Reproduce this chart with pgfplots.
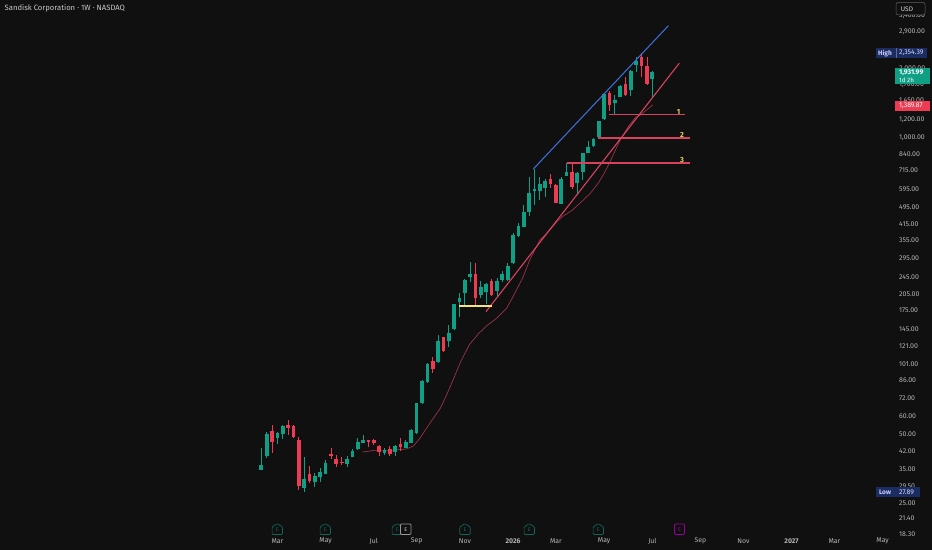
\documentclass[border=0pt]{standalone}
\usepackage{pgfplots}
\pgfplotsset{compat=1.18}
\usepackage{pgfplotstable}
\usepackage{fontspec}
\setmainfont{Fira Sans}
\definecolor{bg}{HTML}{101010}
\definecolor{up}{HTML}{0E9F85}
\definecolor{down}{HTML}{EE3A52}
\definecolor{trendred}{HTML}{D8425E}
\definecolor{maline}{HTML}{9A3346}
\definecolor{tblue}{HTML}{3E6FDB}
\definecolor{ylw}{HTML}{F6E27E}
\definecolor{numy}{HTML}{E8D060}
\definecolor{axtxt}{HTML}{B4B4B4}
\definecolor{earn}{HTML}{106558}
\definecolor{hightag}{HTML}{1B2C60}
\pgfplotstableread{
i o h l c
0 34.9 43.6 34.7 36.7
1 40.2 51.3 39.4 50.2
3 48.2 51.3 45.3 50.7
4 50.2 55.0 47.7 54.4
8 29.2 39.8 27.89 31.9
10 31.0 33.9 29.5 32.9
11 32.5 35.6 31.0 34.2
12 33.5 38.6 33.4 37.5
16 37.1 40.2 36.0 39.0
17 39.8 43.1 39.7 42.3
18 43.1 48.2 42.7 46.3
19 45.8 49.7 45.7 47.2
23 41.4 43.6 40.6 42.7
25 41.8 44.9 40.2 44.4
27 43.6 47.2 43.5 46.3
28 45.8 52.8 45.7 52.3
29 50.7 68.7 50.2 68.6
30 68.6 86.5 67.9 85.6
31 84.8 102.8 84.0 101.7
33 103.8 136.3 102.8 128.2
35 128.2 150.7 120.7 139.0
36 144.8 186.5 143.3 186.2
37 190 208.1 163.4 197.9
38 208.1 239.7 184.4 237.3
39 244.6 284.2 232.6 252.1
41 204 234.9 197.9 221.2
42 210.2 230.2 186.2 227.9
44 212.4 242.2 201.9 234.9
45 237.3 259.9 232.6 252.1
46 237.3 281.4 234.9 273
47 281.4 381.3 278.6 373.7
48 370 422 366.3 409.5
49 405.4 505.9 405 471.4
50 471.4 671 452.8 571
51 582 727 505.9 594
52 582 671 532 625
53 601 658 548 645
56 511 671 510 658
57 678 772 677 706
59 632 706 559 699
60 706 856 651 855
61 855 964 854 908
62 917 995 908 985
63 1005 1181 995 1180
64 1205 1565 1192 1550
66 1416 1534 1267 1459
67 1504 1698 1503 1681
69 1613 1974 1519 1954
70 2077 2251 1935 2162
73 1804 1954 1504 1932
}\greencandles
\pgfplotstableread{
i o h l c
2 51.8 55.0 41.4 46.3
5 55.0 57.8 49.7 53.3
6 54.4 55.0 48.2 48.7
7 47.2 48.7 28.6 29.8
9 33.5 36.3 30.7 31.3
13 41.0 43.6 39.0 40.2
14 39.0 40.6 36.0 37.1
15 37.8 39.8 36.7 37.5
20 47.2 47.3 44.0 46.3
21 47.2 47.7 44.9 45.8
22 44.4 44.9 40.2 41.8
24 43.1 44.4 40.2 41.0
26 45.3 48.2 42.3 44.0
32 104.8 109.1 92.9 96.7
34 133.6 134 114.8 115.9
40 252.1 281.4 184.4 197.9
43 234.9 239.7 201.9 204
54 658 692 601 625
55 619 625 515 516.2
58 706 772 594 607
65 1565 1597 1306 1388
68 1715 1841 1519 1534
71 2251 2354 1841 2056
72 2056 2251 1698 1715
}\redcandles
\pgfplotstableread{
x y
18.9 41.8
20.9 42.4
23.4 42.3
25.3 42.7
27.1 43.1
28.4 44.4
29.6 48
31.5 56
33.4 64.9
34.6 74.4
35.8 86.5
37.1 102.5
38.8 123.1
40.5 137.6
42.1 149.6
43.95 161.2
45.8 178.3
47 200.5
48.9 245
50.1 290
52 355
53.9 393
55.2 428
56.4 452.8
58 478
59.5 515
61.4 568
62.9 630
64.2 708
65.4 810
67 974
68.6 1123
69.8 1218
70.8 1255
73.1 1388
}\madata
\begin{document}
\begin{tikzpicture}
\begin{axis}[
  scale only axis, width=932bp, height=550bp,
  ymode=log, xmin=-48.79, xmax=125.22, ymin=15.55, ymax=4000,
  axis background/.style={fill=bg},
  axis line style={draw=none},
  major tick length=0pt, minor tick length=0pt,
  yminorticks=false, xminorticks=false, tick style={draw=none},
  yticklabel pos=right,
  ytick={3400,2900,2000,1700,1450,1200,1000,840,715,595,495,415,355,295,245,205,175,145,121,101,86,72,60,50,42,35,29.5,25,21.4,18.3},
  yticklabels={{3,400.00},{2,900.00},{2,000.00},{1,700.00},{1,450.00},{1,200.00},{1,000.00},840.00,715.00,595.00,495.00,415.00,355.00,295.00,245.00,205.00,175.00,145.00,121.00,101.00,86.00,72.00,60.00,50.00,42.00,35.00,29.50,25.00,21.40,18.30},
  yticklabel style={font=\fontsize{7}{8}\selectfont, text=axtxt, anchor=west, inner sep=0pt, xshift=-33bp},
  xtick={3,12,21,29,38,47,55,64,73,82,90,99,107,116},
  xticklabels={Mar,May,Jul,Sep,Nov,\textbf{2026},Mar,May,Jul,Sep,Nov,\textbf{2027},Mar,May},
  xticklabel style={font=\fontsize{6.9}{8}\selectfont, text=axtxt, anchor=center, inner sep=0pt, yshift=9bp},
  candle/.style n args={2}{draw=none, no marks, forget plot, error bars/.cd, y dir=plus, y explicit, error mark=none, error bar style={draw=#1, line width=#2, line cap=butt}},
]
% moving average
\addplot[maline, line width=0.7bp, forget plot] table[x=x,y=y] {\madata};
% candles
\addplot[candle={up}{0.9bp}] table[x=i, y=l, y error plus expr=\thisrow{h}-\thisrow{l}] {\greencandles};
\addplot[candle={up}{3.7bp}] table[x=i, y=o, y error plus expr=\thisrow{c}-\thisrow{o}] {\greencandles};
\addplot[candle={down}{0.9bp}] table[x=i, y=l, y error plus expr=\thisrow{h}-\thisrow{l}] {\redcandles};
\addplot[candle={down}{3.7bp}] table[x=i, y=c, y error plus expr=\thisrow{o}-\thisrow{c}] {\redcandles};
% drawings
\addplot[tblue, line width=1.05bp, forget plot] coordinates {(50.78,727) (76.0,3087)};
\addplot[trendred, line width=1.1bp, forget plot] coordinates {(41.95,172.3) (78.04,2115)};
\addplot[ylw, line width=1.1bp, forget plot] coordinates {(36.9,182.5) (43.0,182.5)};
\addplot[trendred, line width=1.1bp, forget plot] coordinates {(64.9,1263) (79.1,1263)};
\addplot[trendred, line width=1.3bp, forget plot] coordinates {(62.9,995) (80.04,995)};
\addplot[trendred, line width=1.16bp, forget plot] coordinates {(57.0,772) (80.04,772)};
\end{axis}
\begin{scope}[x=1bp,y=-1bp,yshift=550bp]
\node[anchor=west,inner sep=0pt,text=white!78!black,font=\fontsize{7.7}{9}\selectfont] at (4.5,8.3) {Sandisk Corporation · 1W · NASDAQ};
% price tags
\fill[hightag] (876,48.5) rectangle (927,58);
\fill[hightag!70!white] (896.4,48.5) rectangle (896.8,58);
\node[inner sep=0pt,text=white!80!blue,font=\fontsize{6.6}{8}\selectfont\bfseries] at (885,53.2) {High};
\node[anchor=west,inner sep=0pt,text=white!85!blue,font=\fontsize{6.9}{8}\selectfont] at (899,53.2) {2,354.39};
\fill[up] (894.5,68.5) rectangle (929.5,84);
\node[anchor=west,inner sep=0pt,text=white,font=\fontsize{6.9}{8}\selectfont\bfseries] at (899,73) {1,931.99};
\node[anchor=west,inner sep=0pt,text=white,font=\fontsize{6.2}{8}\selectfont] at (899,80) {1d 2h};
\fill[down] (894.5,101.5) rectangle (929.5,110.8);
\node[anchor=west,inner sep=0pt,text=white,font=\fontsize{6.9}{8}\selectfont] at (899,106) {1,389.87};
\fill[hightag] (876,487.5) rectangle (919.5,497);
\node[inner sep=0pt,text=white!80!blue,font=\fontsize{6.6}{8}\selectfont\bfseries] at (885,492.2) {Low};
\node[anchor=west,inner sep=0pt,text=white!85!blue,font=\fontsize{6.9}{8}\selectfont] at (899,492.2) {27.89};
% currency box
\filldraw[fill=bg,draw=white!38!black,line width=0.5bp,rounded corners=2bp] (896,2.5) rectangle (925,15);
\node[inner sep=0pt,text=white!85!black,font=\fontsize{6.6}{8}\selectfont] at (907,9) {USD};
% drawing labels
\node[inner sep=0pt,text=numy,font=\fontsize{7.4}{8}\selectfont\bfseries] at (678.5,112) {1};
\node[inner sep=0pt,text=numy,font=\fontsize{7.4}{8}\selectfont\bfseries] at (682,135) {2};
\node[inner sep=0pt,text=numy,font=\fontsize{7.4}{8}\selectfont\bfseries] at (682,160) {3};
% earnings events
\newcommand{\earnmark}[2]{%
  \draw[draw=#2,line width=0.7bp,rounded corners=1bp,fill=bg] (#1-5.2,534.5) -- (#1+5.2,534.5) -- (#1+5.2,527) -- (#1,523.6) -- (#1-5.2,527) -- cycle;
  \node[inner sep=0pt,text=#2,font=\fontsize{5.4}{6}\selectfont] at (#1,529.7) {E};}
\earnmark{277.3}{earn}
\earnmark{325.3}{earn}
\earnmark{397.3}{earn}
\filldraw[fill=bg,draw=white!60!black,line width=0.7bp,rounded corners=1bp] (400.4,524) rectangle (411,534.5);
\node[inner sep=0pt,text=white!80!black,font=\fontsize{5.4}{6}\selectfont] at (405.7,529.3) {E};
\earnmark{465}{earn}
\earnmark{529.3}{earn}
\earnmark{598.3}{earn}
\draw[draw=violet!80!magenta,line width=0.7bp,rounded corners=1bp] (674.5,524) rectangle (684.5,534.5);
\node[inner sep=0pt,text=violet!80!magenta,font=\fontsize{5.4}{6}\selectfont] at (679.5,529.3) {E};
\end{scope}
\end{tikzpicture}
\end{document}
